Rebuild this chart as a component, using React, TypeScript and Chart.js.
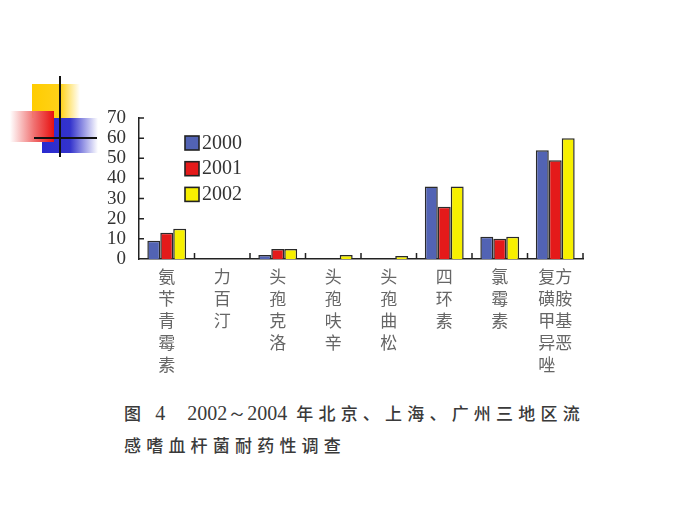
import { useEffect, useRef } from 'react'
import Chart from 'chart.js/auto'

const categories: string[][] = [
  ['氨', '苄', '青', '霉', '素'],
  ['力', '百', '汀'],
  ['头', '孢', '克', '洛'],
  ['头', '孢', '呋', '辛'],
  ['头', '孢', '曲', '松'],
  ['四', '环', '素'],
  ['氯', '霉', '素'],
  ['复方', '磺胺', '甲基', '异恶', '唑　'],
]
const years = ['2000', '2001', '2002']
const values2000 = [9, 0, 2, 0, 0, 36, 11, 54]
const values2001 = [13, 0, 5, 0, 0, 26, 10, 49]
const values2002 = [15, 0, 5, 2, 1.5, 36, 11, 60]
const colors = ['#5263b4', '#e41a1a', '#f7f000']
const yTicks = [0, 10, 20, 30, 40, 50, 60, 70]

const axisExtras = {
  id: 'axisExtras',
  afterDraw(chart: any) {
    const { ctx, chartArea, scales } = chart
    const x = scales.x
    const y = scales.y
    ctx.save()
    ctx.strokeStyle = '#222'
    ctx.lineWidth = 1.5
    ctx.beginPath()
    y.ticks.forEach((_t: any, i: number) => {
      if (i === 0) return
      const py = y.getPixelForTick(i)
      ctx.moveTo(chartArea.left, py)
      ctx.lineTo(chartArea.left + 5, py)
    })
    const n = x.ticks.length
    for (let i = 1; i <= n; i++) {
      const px = i < n ? (x.getPixelForTick(i - 1) + x.getPixelForTick(i)) / 2 : chartArea.right
      ctx.moveTo(px, chartArea.bottom)
      ctx.lineTo(px, chartArea.bottom - 6)
    }
    ctx.stroke()

    // legend inside the plot
    ctx.font = '20px "Liberation Serif", serif'
    ctx.textBaseline = 'middle'
    chart.data.datasets.forEach((ds: any, i: number) => {
      const bx = chartArea.left + 46
      const by = chartArea.top + 18 + i * 25.7
      ctx.fillStyle = ds.backgroundColor
      ctx.fillRect(bx, by, 14, 14)
      ctx.strokeStyle = '#222'
      ctx.lineWidth = 1.6
      ctx.strokeRect(bx, by, 14, 14)
      ctx.fillStyle = '#333'
      ctx.fillText(ds.label, bx + 17, by + 7.5)
    })
    ctx.restore()
  },
}

function Decoration() {
  return (
    <>
      <div style={{ position: 'absolute', left: 32, top: 84, width: 48, height: 34, background: 'linear-gradient(to right, #ffcc00 0%, #ffd21a 60%, rgba(255,220,80,0) 100%)' }} />
      <div style={{ position: 'absolute', left: 42, top: 118, width: 56, height: 35, background: 'linear-gradient(to right, #2a2ad0 0%, #3333cc 50%, rgba(80,80,220,0) 100%)' }} />
      <div style={{ position: 'absolute', left: 10, top: 111, width: 44, height: 31, background: 'linear-gradient(to right, rgba(255,255,255,0) 0%, #f07070 55%, #e81010 100%)' }} />
      <div style={{ position: 'absolute', left: 59, top: 76, width: 2, height: 81, background: '#111' }} />
      <div style={{ position: 'absolute', left: 34, top: 137, width: 63, height: 2, background: '#111' }} />
    </>
  )
}

export default function App() {
  const ref = useRef<HTMLCanvasElement>(null)
  useEffect(() => {
    if (!ref.current) return
    const data = [values2000, values2001, values2002]
    const chart = new Chart(ref.current, {
      type: 'bar',
      data: {
        labels: categories,
        datasets: years.map((yr, i) => ({
          label: yr,
          data: data[i],
          backgroundColor: colors[i],
          borderColor: '#2a2a2a',
          borderWidth: 1.5,
          borderSkipped: 'bottom',
          categoryPercentage: 0.7,
          barPercentage: 1,
        })),
      },
      options: {
        responsive: false,
        animation: false,
        layout: { padding: { top: 18, right: 17, left: 0, bottom: 0 } },
        plugins: { legend: { display: false }, tooltip: { enabled: false } },
        scales: {
          x: {
            grid: { display: false },
            border: { display: true, color: '#222', width: 1.5 },
            ticks: {
              maxRotation: 0,
              autoSkip: false,
              padding: -2,
              color: '#666',
              font: { family: '"Noto Sans CJK SC", sans-serif', size: 17, lineHeight: 1.3 },
            },
            afterFit: (s: any) => { s.height = 131 },
          },
          y: {
            min: 0,
            max: 70,
            afterBuildTicks: (s: any) => { s.ticks = yTicks.map((v) => ({ value: v })) },
            grid: { display: false },
            border: { display: true, color: '#222', width: 1.5 },
            ticks: {
              autoSkip: false,
              padding: 5,
              color: '#333',
              font: { family: '"Liberation Serif", serif', size: 19 },
            },
            afterFit: (s: any) => { s.width = 49 },
          },
        },
      },
      plugins: [axisExtras],
    })
    return () => chart.destroy()
  }, [])

  const captionFont = { fontFamily: '"Noto Sans CJK SC", sans-serif', fontWeight: 500, fontSize: 17, letterSpacing: 5.2, color: '#3a3a3a' }
  const digitFont = { fontFamily: '"Liberation Serif", serif', fontWeight: 400, fontSize: 20, letterSpacing: 0, color: '#3a3a3a' }

  return (
    <div style={{ position: 'absolute', left: 0, top: 0, width: 700, height: 525, background: '#fff', overflow: 'hidden' }}>
      <Decoration />
      <canvas ref={ref} width={510} height={290} style={{ position: 'absolute', left: 90, top: 100 }} />
      <div style={{ position: 'absolute', left: 124, top: 397, whiteSpace: 'nowrap', lineHeight: '32px', ...captionFont }}>
        <div>
          图 <span style={digitFont}>4</span>
          <span style={{ display: 'inline-block', width: 22 }} />
          <span style={digitFont}>2002～2004</span> 年北京、上海、广州三地区流
        </div>
        <div>感嗜血杆菌耐药性调查</div>
      </div>
    </div>
  )
}
